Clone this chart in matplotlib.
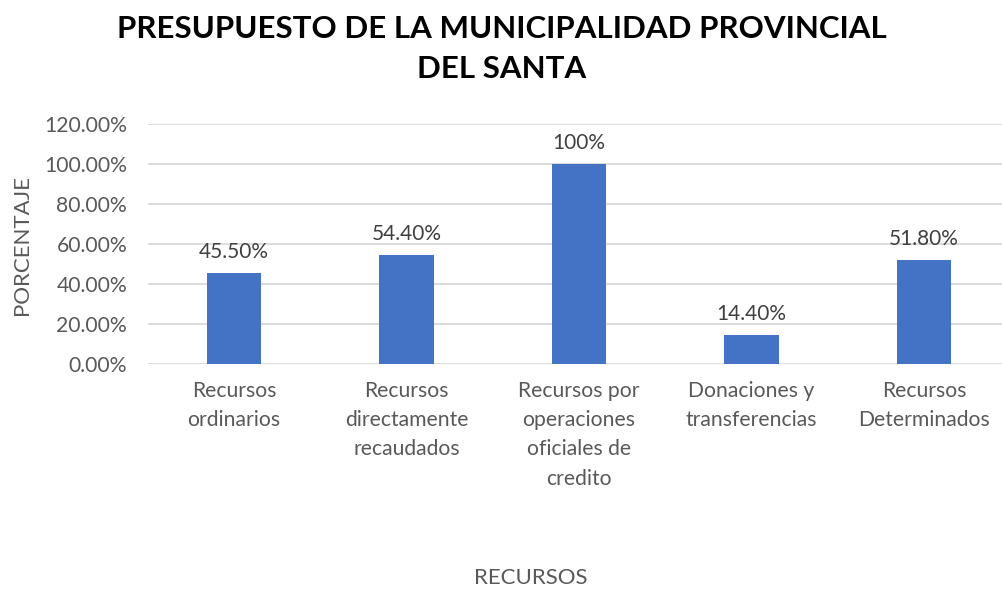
import matplotlib.pyplot as plt
from matplotlib.ticker import FuncFormatter

categorias = ['Recursos\nordinarios', 'Recursos\ndirectamente\nrecaudados',
              'Recursos por\noperaciones\noficiales de\ncredito',
              'Donaciones y\ntransferencias', 'Recursos\nDeterminados']
valores = [0.455, 0.544, 1.0, 0.144, 0.518]
etiquetas = ['45.50%', '54.40%', '100%', '14.40%', '51.80%']

plt.rcParams['font.family'] = ['Lato', 'DejaVu Sans']
gris = '#595959'

fig = plt.figure(figsize=(10.03, 5.89), dpi=100)
W, H = 1003, 589
ax = fig.add_axes([148 / W, 1 - 364 / H, (1003 - 148) / W, 240 / H])

x = range(len(valores))
bars = ax.bar(x, valores, width=0.315, color='#4472c4', zorder=3)
for b, t in zip(bars, etiquetas):
    ax.annotate(t, (b.get_x() + b.get_width() / 2, b.get_height()),
                xytext=(0, 8), textcoords='offset points',
                ha='center', va='bottom', fontsize=15, color='#404040')

ax.set_xlim(-0.4986, 4.458)
ax.set_ylim(0, 1.2)
ax.set_yticks([0, 0.2, 0.4, 0.6, 0.8, 1.0, 1.2])
ax.yaxis.set_major_formatter(FuncFormatter(lambda v, p: f'{v * 100:.2f}%'))
ax.grid(axis='y', color='#d9d9d9', linewidth=1.3, zorder=0)
for s in ax.spines.values():
    s.set_visible(False)
ax.tick_params(axis='both', length=0, labelsize=15.2, labelcolor=gris)
ax.tick_params(axis='y', pad=15)
ax.tick_params(axis='x', pad=12)
ax.set_xticks(list(x))
ax.set_xticklabels(categorias, linespacing=1.58)

fig.text(22 / W, 1 - 245 / H, 'PORCENTAJE', rotation=90, ha='center', va='center',
         fontsize=16, color=gris)
fig.text(531 / W, 1 - 578 / H, 'RECURSOS', ha='center', va='center',
         fontsize=16, color=gris)
fig.text(502 / W, 1 - 49 / H, 'PRESUPUESTO DE LA MUNICIPALIDAD PROVINCIAL\nDEL SANTA',
         ha='center', va='center', fontsize=22.5, fontweight='bold', color='black',
         linespacing=1.55)

fig.savefig('out.png', dpi=100)
